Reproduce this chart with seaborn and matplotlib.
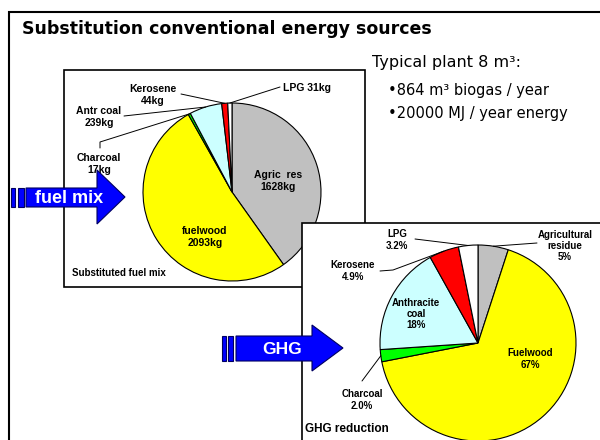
import matplotlib
matplotlib.use("Agg")
import matplotlib.pyplot as plt
import numpy as np
import seaborn as sns
from matplotlib.patches import Rectangle, Polygon

# substituted fuel mix, kg per year
fuelNames = ["Agric  res", "fuelwood", "Charcoal", "Antr coal", "Kerosene", "LPG"]
fuelKg = [1628, 2093, 17, 239, 44, 31]

# GHG reduction share, %
ghgNames = ["Agricultural\nresidue", "Fuelwood", "Charcoal", "Anthracite\ncoal", "Kerosene", "LPG"]
ghgShare = [5, 67, 2.0, 18, 4.9, 3.2]
ghgText = ["5%", "67%", "2.0%", "18%", "4.9%", "3.2%"]

sliceColors = ["#C0C0C0", "#FFFF00", "#00FF00", "#CCFFFF", "#FF0000", "#FFFFFF"]

titleText = "Substitution conventional energy sources"
plantInfo = ["Typical plant 8 m³:", "•864 m³ biogas / year", "•20000 MJ / year energy"]

W, H = 600, 440
LABEL_FONT = "Liberation Sans"

sns.set_style("white")
plt.rcParams['font.family'] = ['DejaVu Sans']
plt.rcParams['text.color'] = 'black'


def P(x, y):
    # pixel coordinates (origin top left) -> data coordinates
    return (x, H - y)


def EdgePoint(wedge, frac=1.0):
    ang = np.deg2rad((wedge.theta1 + wedge.theta2) / 2)
    cx, cy = wedge.center
    return (cx + frac * wedge.r * np.cos(ang), cy + frac * wedge.r * np.sin(ang))


def DrawArrow(ax, bars, body, head, text, textPos, size):
    for (x0, x1) in bars:
        ax.add_patch(Rectangle(P(x0, body[3]), x1 - x0, body[3] - body[2],
                               facecolor="#0000FF", edgecolor="#000060", lw=0.8, zorder=7))
    bx0, bx1, by0, by1 = body
    hy0, hy1, tipX = head
    tipY = (hy0 + hy1) / 2
    pts = [P(bx0, by0), P(bx1, by0), P(bx1, hy0), P(tipX, tipY),
           P(bx1, hy1), P(bx1, by1), P(bx0, by1)]
    ax.add_patch(Polygon(pts, closed=True, facecolor="#0000FF", edgecolor="#000060", lw=0.8, zorder=7))
    ax.text(*P(*textPos), text, color="white", fontsize=size, fontweight="bold",
            family=LABEL_FONT, ha="center", va="center", zorder=8)


fig = plt.figure(figsize=(6, 4.4), dpi=100)
ax = fig.add_axes([0, 0, 1, 1])

# slide frame and panel frames
ax.add_patch(Rectangle(P(8.5, 460), 620, 448, facecolor="white", edgecolor="black", lw=1.5, zorder=1))
ax.add_patch(Rectangle(P(63.5, 287), 301.5, 217, facecolor="white", edgecolor="black", lw=1.2, zorder=2))
ax.add_patch(Rectangle(P(302, 460), 320, 237, facecolor="white", edgecolor="black", lw=1.2, zorder=4))

ax.text(*P(22, 29), titleText, fontsize=12.5, fontweight="bold", ha="left", va="center", zorder=8)
ax.text(*P(372, 62), plantInfo[0], fontsize=11.5, ha="left", va="center", zorder=8)
ax.text(*P(388, 90), plantInfo[1], fontsize=10.5, ha="left", va="center", zorder=8)
ax.text(*P(388, 113), plantInfo[2], fontsize=10.5, ha="left", va="center", zorder=8)

# pie 1: substituted fuel mix
wedges1, _ = ax.pie(fuelKg, colors=sliceColors, startangle=90, counterclock=False,
                    center=P(232, 192), radius=89, frame=True,
                    wedgeprops=dict(edgecolor="black", linewidth=0.8, zorder=3))

fuelLabels = [f"{n}\n{v}kg" for n, v in zip(fuelNames, fuelKg)]
fuelLabels[5] = f"{fuelNames[5]} {fuelKg[5]}kg"
# label position, horizontal alignment, leader line points (None = inside label)
fuelLayout = [
    ((278, 181), "center", None),
    ((205, 237), "center", None),
    ((99, 164), "center", [(100, 148), (100, 142)]),
    ((99, 117), "center", [(124, 116)]),
    ((153, 95), "center", [(181, 94)]),
    ((283, 88), "left", [(280, 87)]),
]
for w, lab, (pos, ha, lead) in zip(wedges1, fuelLabels, fuelLayout):
    ax.text(*P(*pos), lab, fontsize=7.5, fontweight="bold", family=LABEL_FONT,
            ha=ha, va="center", linespacing=1.25, zorder=3.5)
    if lead:
        pts = [P(*p) for p in lead] + [EdgePoint(w)]
        xs, ys = zip(*pts)
        ax.plot(xs, ys, color="black", lw=0.7, zorder=3.5)

ax.text(*P(72, 273), "Substituted fuel mix", fontsize=7, fontweight="bold", family=LABEL_FONT,
        ha="left", va="center", zorder=3.5)

# pie 2: GHG reduction
wedges2, _ = ax.pie(ghgShare, colors=sliceColors, startangle=90, counterclock=False,
                    center=P(478, 343), radius=98, frame=True,
                    wedgeprops=dict(edgecolor="black", linewidth=0.8, zorder=5))

ghgLayout = [
    ((565, 246), "center", [(537, 243)]),
    ((530, 359), "center", None),
    ((362, 400), "center", [(362, 381)]),
    ((416, 314), "center", None),
    ((353, 271), "center", [(380, 271), (393, 270)]),
    ((397, 240), "center", [(415, 239)]),
]
for w, name, pct, (pos, ha, lead) in zip(wedges2, ghgNames, ghgText, ghgLayout):
    ax.text(*P(*pos), f"{name}\n{pct}", fontsize=7, fontweight="bold", family=LABEL_FONT,
            ha=ha, va="center", linespacing=1.15, zorder=6)
    if lead:
        pts = [P(*p) for p in lead] + [EdgePoint(w)]
        xs, ys = zip(*pts)
        ax.plot(xs, ys, color="black", lw=0.7, zorder=6)

ax.text(*P(305, 429), "GHG reduction", fontsize=8.5, fontweight="bold", family=LABEL_FONT,
        ha="left", va="center", zorder=6)

# block arrows
DrawArrow(ax, [(11, 15), (18, 24)], (26, 97, 188, 207), (170, 224, 125), "fuel mix", (69, 198), 13)
DrawArrow(ax, [(222, 226), (228, 233)], (236, 312, 336, 361), (325, 371, 343), "GHG", (282, 349), 12.5)

ax.set_xlim(0, W)
ax.set_ylim(0, H)
ax.set_aspect("auto")
ax.axis("off")

fig.savefig("out.png", dpi=100)
